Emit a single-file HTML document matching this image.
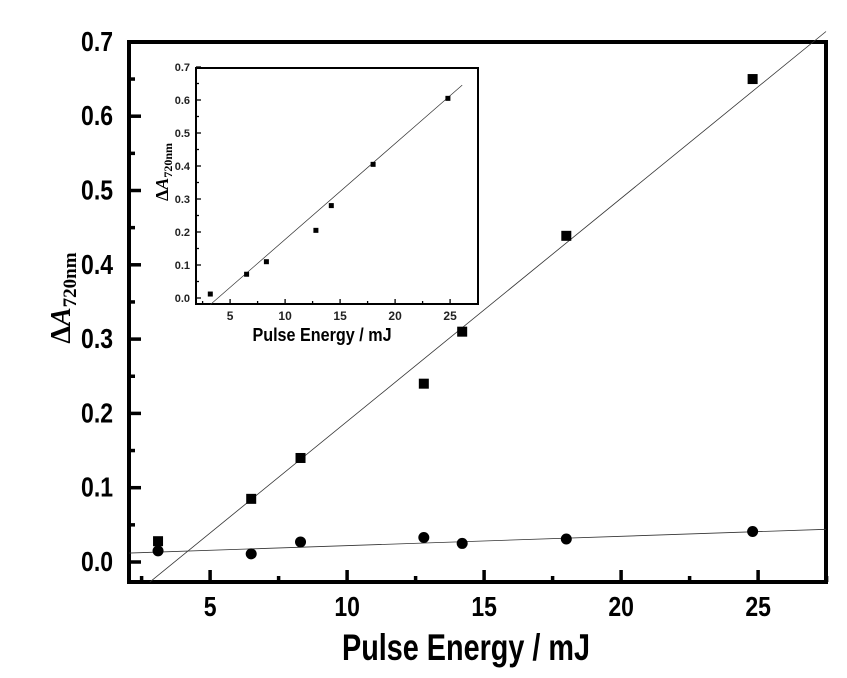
<!DOCTYPE html>
<html><head><meta charset="utf-8"><style>
html,body{margin:0;padding:0;background:#fff;}
svg{display:block;font-family:"Liberation Sans",Arial,sans-serif;}
</style></head><body>
<svg id="s" width="847" height="678" viewBox="0 0 847 678" xmlns="http://www.w3.org/2000/svg"></svg>
<script>
const s=document.getElementById('s');let h='';
const X=v=>129+(v-2.04)*27.4, Y=v=>562-v*743;
h+=`<rect x="129" y="42" width="697" height="540" fill="none" stroke="#000" stroke-width="4"/>`;
for(let v=0;v<=0.7001;v+=0.05){const y=Y(v);const maj=Math.round(v*100)%10==0;
 h+=`<line x1="129" x2="${129+(maj?12:6)}" y1="${y}" y2="${y}" stroke="#000" stroke-width="3.5"/>`;
 if(maj)h+=`<text transform="translate(113,${y+9}) scale(0.92,1.1)" font-size="25" font-weight="bold" text-anchor="end">${v.toFixed(1)}</text>`;}
for(let v=2.5;v<=27.5;v+=2.5){const x=X(v);const maj=v%5==0;
 h+=`<line x1="${x}" x2="${x}" y1="582" y2="${582-(maj?12:6)}" stroke="#000" stroke-width="3.5"/>`;
 if(maj)h+=`<text transform="translate(${x},616) scale(0.92,1.1)" font-size="25" font-weight="bold" text-anchor="middle">${v}</text>`;}
h+=`<text transform="translate(466,660) scale(0.9,1.15)" font-size="32" font-weight="bold" text-anchor="middle">Pulse Energy / mJ</text>`;
h+=`<text transform="translate(70,298) rotate(-90)" font-family="Liberation Serif,serif" font-weight="bold" font-size="28" text-anchor="middle">Δ<tspan font-style="italic">A</tspan><tspan font-size="19" dy="6">720nm</tspan></text>`;
h+=`<line x1="${X(2.8)}" y1="${Y(-0.027)}" x2="826" y2="${Y(0.714)}" stroke="#333" stroke-width="0.8"/>`;
h+=`<line x1="129" y1="${Y(0.012)}" x2="826" y2="${Y(0.044)}" stroke="#333" stroke-width="0.8"/>`;
const sq=[[3.1,0.028],[6.5,0.085],[8.3,0.14],[12.8,0.24],[14.2,0.31],[18,0.439],[24.8,0.65]];
const ci=[[3.1,0.015],[6.5,0.011],[8.3,0.027],[12.8,0.033],[14.2,0.025],[18,0.031],[24.8,0.041]];
sq.forEach(p=>h+=`<rect x="${X(p[0])-5}" y="${Y(p[1])-5}" width="10" height="10"/>`);
ci.forEach(p=>h+=`<circle cx="${X(p[0])}" cy="${Y(p[1])}" r="5.5"/>`);
const x=v=>196+(v-1.9)*11, y=v=>298-v*330;
h+=`<rect x="196" y="68" width="282" height="236" fill="#fff" stroke="#000" stroke-width="2"/>`;
for(let v=0;v<=0.7001;v+=0.05){const yy=y(v);const maj=Math.round(v*100)%10==0;
 h+=`<line x1="196" x2="${196+(maj?5:3)}" y1="${yy}" y2="${yy}" stroke="#000" stroke-width="1.3"/>`;
 if(maj)h+=`<text x="190" y="${yy+4}" font-size="11" font-weight="bold" text-anchor="end" fill="#222">${v.toFixed(1)}</text>`;}
for(let v=2.5;v<=25.1;v+=2.5){const xx=x(v);const maj=v%5==0;
 h+=`<line x1="${xx}" x2="${xx}" y1="304" y2="${304-(maj?5:3)}" stroke="#000" stroke-width="1.3"/>`;
 if(maj)h+=`<text x="${xx}" y="320" font-size="12" font-weight="bold" text-anchor="middle" fill="#222">${v}</text>`;}
h+=`<text transform="translate(322,341) scale(0.95,1.1)" font-size="17" font-weight="bold" text-anchor="middle">Pulse Energy / mJ</text>`;
h+=`<text transform="translate(168,172) rotate(-90)" font-family="Liberation Serif,serif" font-weight="bold" font-size="18" text-anchor="middle">Δ<tspan font-style="italic">A</tspan><tspan font-size="12" dy="4">720nm</tspan></text>`;
h+=`<line x1="${x(3.2)}" y1="${y(-0.02)}" x2="${x(26.1)}" y2="${y(0.645)}" stroke="#333" stroke-width="0.7"/>`;
[[3.2,0.012],[6.5,0.072],[8.3,0.11],[12.8,0.205],[14.2,0.28],[18,0.405],[24.8,0.605]].forEach(p=>h+=`<rect x="${x(p[0])-2.5}" y="${y(p[1])-2.5}" width="5" height="5"/>`);
s.innerHTML=h;
</script>
</body></html>
